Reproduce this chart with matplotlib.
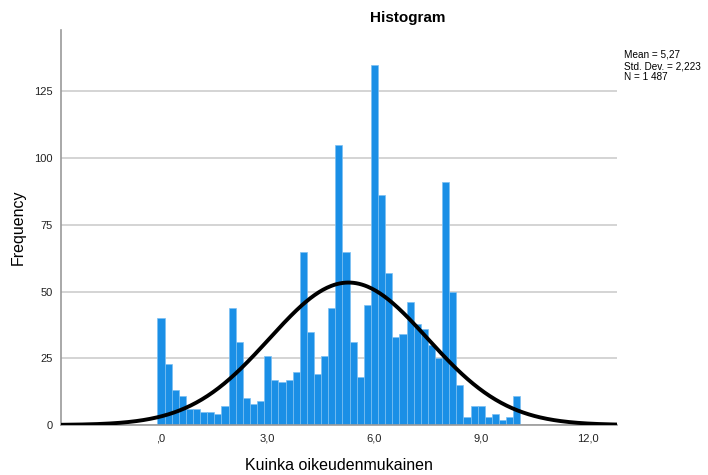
# SPSS-style histogram with normal curve overlay
import numpy as np
import matplotlib.pyplot as plt

plt.rcParams['font.family'] = ['Liberation Sans', 'DejaVu Sans']

# bin centres (0.0 .. 10.0, step 0.2) and counts
bin_width = 0.2
bin_centers = np.round(np.arange(0, 51) * bin_width, 1)
counts = [40, 23, 13, 11, 6, 6, 5, 5, 4, 7,
          44, 31, 10, 8, 9, 26, 17, 16, 17, 20,
          65, 35, 19, 26, 44, 105, 65, 31, 18, 45,
          135, 86, 57, 33, 34, 46, 38, 36, 30, 25,
          91, 50, 15, 3, 7, 7, 3, 4, 2, 3,
          11]

mean = 5.27
std = 2.223
n = 1487

x_ticks = [0, 3, 6, 9, 12]
x_tick_labels = [",0", "3,0", "6,0", "9,0", "12,0"]
y_ticks = [0, 25, 50, 75, 100, 125]

fig = plt.figure(figsize=(7.08, 4.75), dpi=100)
ax = fig.add_axes([0.0866, 0.1053, 0.7842, 0.8315])

ax.bar(bin_centers, counts, width=bin_width, color="#1a8fe6",
       edgecolor="#7cc0f2", linewidth=0.5, zorder=2)

# normal curve scaled to counts
xs = np.linspace(-2.8, 12.8, 400)
pdf = np.exp(-0.5 * ((xs - mean) / std) ** 2) / (std * np.sqrt(2 * np.pi))
ax.plot(xs, pdf * n * bin_width, color="black", linewidth=2.8, zorder=3)

ax.set_xlim(-2.8, 12.8)
ax.set_ylim(0, 148)
ax.set_xticks(x_ticks)
ax.set_xticklabels(x_tick_labels)
ax.set_yticks(y_ticks)
ax.tick_params(length=0, labelsize=8, colors="#222222", pad=6)
ax.yaxis.grid(True, color="#d4d4d4", linewidth=1.4, zorder=0)
ax.set_axisbelow(True)

for side in ("top", "right"):
    ax.spines[side].set_visible(False)
for side in ("left", "bottom"):
    ax.spines[side].set_color("#9a9a9a")
    ax.spines[side].set_linewidth(1.2)

# axis titles placed in figure coords to match the SPSS layout
fig.text(0.479, 0.019, "Kuinka oikeudenmukainen", fontsize=11.5,
         ha="center", va="center")
fig.text(0.026, 0.521, "Frequency", fontsize=11.5, rotation=90,
         ha="center", va="center")

fig.text(0.576, 0.962, "Histogram", fontsize=11, fontweight="bold",
         ha="center", va="center")

stats = "Mean = 5,27\nStd. Dev. = 2,223\nN = 1 487"
fig.text(0.881, 0.895, stats, fontsize=7.2, ha="left", va="top",
         linespacing=1.15)

fig.savefig("out.png", dpi=100)
